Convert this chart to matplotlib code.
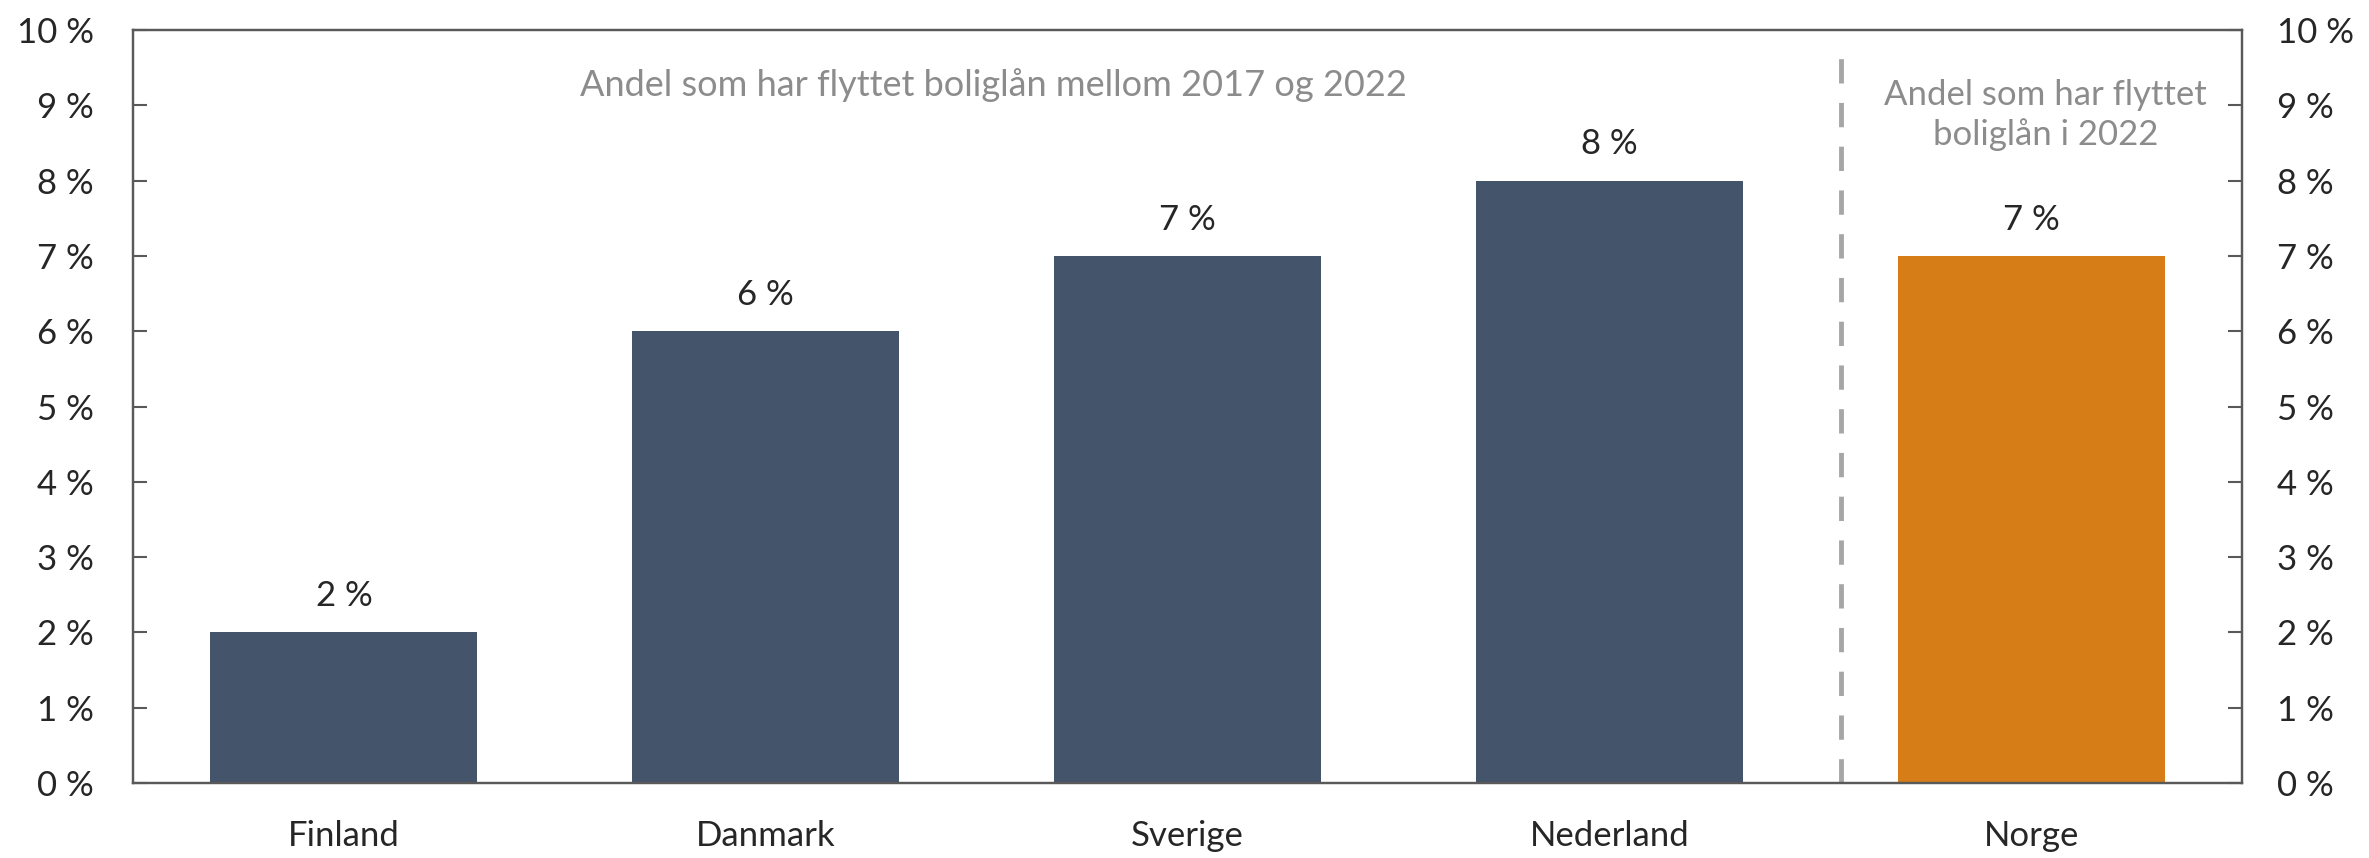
import matplotlib.pyplot as plt
from matplotlib.ticker import FuncFormatter

countries = ["Finland", "Danmark", "Sverige", "Nederland", "Norge"]
shares = [2, 6, 7, 8, 7]
bar_colors = ["#44546A", "#44546A", "#44546A", "#44546A", "#D67D18"]
note_left = "Andel som har flyttet boliglån mellom 2017 og 2022"
note_right = "Andel som har flyttet\nboliglån i 2022"

plt.rcParams["font.family"] = ["Lato", "DejaVu Sans"]

W, H = 2369, 858
fig = plt.figure(figsize=(W / 100, H / 100), dpi=100)
ax = fig.add_axes([133 / W, 75 / H, (2242 - 133) / W, (783 - 30) / H])

x = range(len(countries))
ax.bar(x, shares, width=0.633, color=bar_colors, zorder=2)
for xi, v in zip(x, shares):
    ax.annotate(f"{v} %", (xi, v), xytext=(0, 26), textcoords="offset points",
                ha="center", va="center", fontsize=25, color="#262626")

ax.set_xlim(-0.5, len(countries) - 0.5)
ax.set_ylim(0, 10)
ax.set_yticks(range(0, 11))
pct = FuncFormatter(lambda v, _: f"{v:.0f} %")
ax.yaxis.set_major_formatter(pct)
ax.set_xticks(list(x))
ax.set_xticklabels(countries)
ax.tick_params(axis="x", length=0, pad=27, labelsize=25, labelcolor="#262626")
ax.tick_params(axis="y", direction="in", length=10, width=1.5, color="#595959",
               pad=28, labelsize=25, labelcolor="#262626")

ax2 = ax.twinx()
ax2.set_ylim(ax.get_ylim())
ax2.set_yticks(range(0, 11))
ax2.yaxis.set_major_formatter(pct)
ax2.tick_params(axis="y", direction="in", length=10, width=1.5, color="#595959",
                pad=25, labelsize=25, labelcolor="#262626")

for a in (ax, ax2):
    for s in a.spines.values():
        s.set_color("#595959")
        s.set_linewidth(1.6)

# separator between the 2017-2022 group and Norway
ax.axvline(3.55, ymin=0.0, ymax=0.985, color="#A6A6A6", lw=3.5,
           linestyle=(0, (5, 4)), zorder=1)

ax.text(1.54, 9.27, note_left, ha="center", va="center", fontsize=26, color="#8C8C8C")
ax.text(4.035, 8.87, note_right, ha="center", va="center", fontsize=25,
        color="#8C8C8C", linespacing=1.25)

fig.savefig("out.png", dpi=100)
